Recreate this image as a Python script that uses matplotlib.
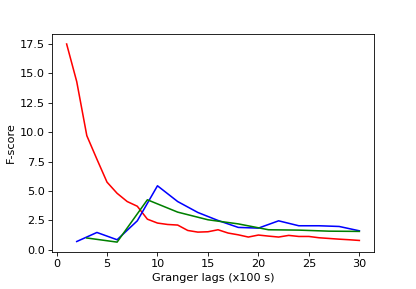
import matplotlib
matplotlib.use("Agg")
import matplotlib.pyplot as plt
import numpy as np

red_x = list(range(1, 31))
red_y = [17.5, 14.3, 9.7, 7.7, 5.75, 4.8, 4.1, 3.7, 2.6, 2.27, 2.15, 2.1, 1.64, 1.5,
         1.53, 1.7, 1.42, 1.27, 1.08, 1.25, 1.16, 1.08, 1.22, 1.13, 1.13, 1.02, 0.96,
         0.9, 0.85, 0.79]

blue_x = [2, 4, 6, 8, 10, 12, 14, 16, 18, 20, 22, 24, 26, 28, 30]
blue_y = [0.7, 1.47, 0.85, 2.46, 5.44, 4.1, 3.17, 2.49, 1.9, 1.84, 2.46, 2.04, 2.04, 1.98, 1.61]

green_x = [3, 6, 9, 12, 15, 18, 21, 24, 27, 30]
green_y = [1.0, 0.65, 4.25, 3.2, 2.55, 2.2, 1.7, 1.67, 1.58, 1.56]

plt.rcParams["font.size"] = 10.8
DPI = 75
fig = plt.figure(figsize=(416 / DPI, 289 / DPI), dpi=DPI)
ax = fig.add_subplot(111)
fig.subplots_adjust(left=0.125, right=0.899, top=0.882, bottom=0.128)
ax.plot(red_x, red_y, color="red")
ax.plot(blue_x, blue_y, color="blue")
ax.plot(green_x, green_y, color="green")
ax.set_yticks(np.arange(0, 17.6, 2.5))
ax.set_xlabel("Granger lags (x100 s)")
ax.set_ylabel("F-score")
fig.savefig("out.png", dpi=DPI)
